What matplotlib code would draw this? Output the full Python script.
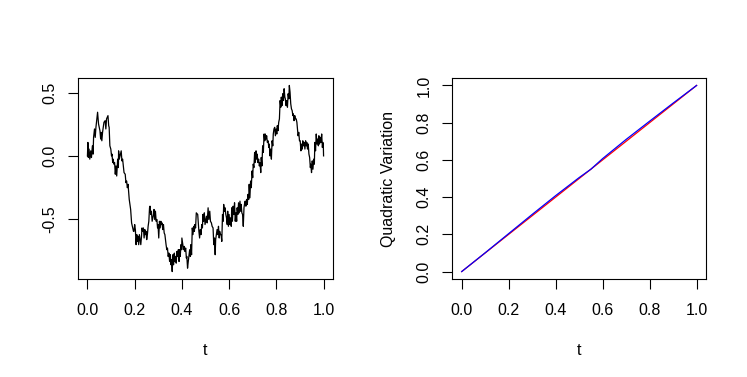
import matplotlib
matplotlib.use("Agg")
import matplotlib.pyplot as plt
import numpy as np

# Brownian path (t, W), two readings per column
bm_t = [0.000, 0.002, 0.004, 0.007, 0.010, 0.014, 0.017, 0.021, 0.024, 0.026,
        0.030, 0.033, 0.036, 0.040, 0.043, 0.047, 0.053, 0.056, 0.058, 0.061,
        0.064, 0.070, 0.075, 0.078, 0.081, 0.087, 0.090, 0.092, 0.095, 0.099,
        0.102, 0.104, 0.107, 0.109, 0.112, 0.115, 0.118, 0.121, 0.124, 0.128,
        0.131, 0.132, 0.135, 0.138, 0.141, 0.143, 0.146, 0.149, 0.155, 0.160,
        0.163, 0.166, 0.169, 0.172, 0.175, 0.177, 0.183, 0.187, 0.192, 0.195,
        0.197, 0.200, 0.203, 0.206, 0.209, 0.212, 0.214, 0.217, 0.220, 0.223,
        0.226, 0.229, 0.231, 0.234, 0.237, 0.240, 0.243, 0.246, 0.248, 0.251,
        0.254, 0.257, 0.260, 0.263, 0.265, 0.268, 0.271, 0.274, 0.277, 0.280,
        0.282, 0.285, 0.288, 0.291, 0.294, 0.297, 0.299, 0.302, 0.305, 0.308,
        0.311, 0.314, 0.316, 0.319, 0.322, 0.325, 0.328, 0.333, 0.336, 0.339,
        0.342, 0.345, 0.348, 0.351, 0.354, 0.356, 0.359, 0.362, 0.365, 0.368,
        0.371, 0.373, 0.376, 0.379, 0.382, 0.385, 0.388, 0.390, 0.393, 0.396,
        0.399, 0.400, 0.404, 0.407, 0.410, 0.413, 0.416, 0.419, 0.421, 0.424,
        0.427, 0.433, 0.436, 0.438, 0.441, 0.444, 0.447, 0.450, 0.453, 0.455,
        0.458, 0.461, 0.467, 0.470, 0.472, 0.475, 0.478, 0.481, 0.484, 0.487,
        0.489, 0.492, 0.495, 0.498, 0.504, 0.507, 0.511, 0.514, 0.518, 0.521,
        0.525, 0.528, 0.532, 0.535, 0.538, 0.541, 0.543, 0.546, 0.549, 0.552,
        0.555, 0.558, 0.560, 0.563, 0.566, 0.569, 0.572, 0.575, 0.577, 0.580,
        0.583, 0.586, 0.589, 0.592, 0.594, 0.597, 0.600, 0.603, 0.606, 0.609,
        0.611, 0.614, 0.617, 0.620, 0.623, 0.626, 0.629, 0.632, 0.634, 0.637,
        0.640, 0.643, 0.646, 0.649, 0.651, 0.654, 0.657, 0.660, 0.663, 0.666,
        0.668, 0.671, 0.674, 0.677, 0.680, 0.683, 0.685, 0.688, 0.691, 0.694,
        0.697, 0.700, 0.702, 0.705, 0.708, 0.711, 0.714, 0.717, 0.719, 0.722,
        0.725, 0.728, 0.731, 0.734, 0.736, 0.739, 0.742, 0.745, 0.748, 0.751,
        0.753, 0.756, 0.759, 0.762, 0.765, 0.768, 0.770, 0.773, 0.776, 0.779,
        0.782, 0.785, 0.787, 0.790, 0.793, 0.796, 0.799, 0.802, 0.804, 0.807,
        0.810, 0.813, 0.816, 0.819, 0.821, 0.824, 0.827, 0.830, 0.833, 0.836,
        0.838, 0.841, 0.844, 0.847, 0.850, 0.853, 0.855, 0.858, 0.861, 0.864,
        0.867, 0.870, 0.872, 0.875, 0.878, 0.881, 0.884, 0.887, 0.889, 0.892,
        0.895, 0.898, 0.901, 0.904, 0.907, 0.910, 0.912, 0.915, 0.918, 0.921,
        0.924, 0.927, 0.929, 0.932, 0.935, 0.938, 0.941, 0.944, 0.946, 0.949,
        0.952, 0.955, 0.958, 0.961, 0.963, 0.966, 0.969, 0.972, 0.975, 0.978,
        0.980, 0.983, 0.986, 0.989, 0.992, 0.995, 0.997, 0.999, 1.000]
bm_w = [0.000, 0.107, -0.013, 0.054, -0.026, 0.040, -0.013, 0.080, 0.014, 0.147,
        0.214, 0.147, 0.227, 0.294, 0.347, 0.254, 0.200, 0.134, 0.187, 0.120,
        0.187, 0.267, 0.280, 0.214, 0.294, 0.320, 0.240, 0.227, 0.080, 0.054,
        0.000, 0.014, -0.053, -0.026, -0.066, -0.053, -0.146, -0.080, -0.160, -0.026,
        -0.093, 0.040, -0.026, 0.000, 0.027, 0.040, -0.040, -0.026, -0.133, -0.146,
        -0.213, -0.200, -0.253, -0.226, -0.293, -0.346, -0.426, -0.533, -0.573, -0.600,
        -0.600, -0.546, -0.586, -0.706, -0.626, -0.680, -0.640, -0.706, -0.626, -0.666,
        -0.706, -0.640, -0.573, -0.600, -0.573, -0.653, -0.586, -0.626, -0.600, -0.666,
        -0.626, -0.560, -0.520, -0.413, -0.400, -0.466, -0.440, -0.520, -0.493, -0.466,
        -0.426, -0.506, -0.440, -0.520, -0.506, -0.573, -0.546, -0.653, -0.520, -0.573,
        -0.520, -0.546, -0.533, -0.586, -0.546, -0.613, -0.626, -0.706, -0.746, -0.733,
        -0.800, -0.773, -0.840, -0.786, -0.866, -0.826, -0.920, -0.786, -0.866, -0.773,
        -0.840, -0.800, -0.853, -0.760, -0.800, -0.746, -0.840, -0.746, -0.800, -0.706,
        -0.746, -0.653, -0.706, -0.746, -0.720, -0.760, -0.733, -0.813, -0.800, -0.893,
        -0.840, -0.746, -0.800, -0.706, -0.786, -0.573, -0.626, -0.560, -0.600, -0.546,
        -0.573, -0.453, -0.466, -0.546, -0.600, -0.653, -0.586, -0.626, -0.546, -0.573,
        -0.466, -0.520, -0.453, -0.546, -0.480, -0.533, -0.413, -0.506, -0.440, -0.520,
        -0.533, -0.560, -0.573, -0.706, -0.653, -0.786, -0.666, -0.626, -0.586, -0.626,
        -0.560, -0.653, -0.600, -0.626, -0.626, -0.680, -0.466, -0.520, -0.386, -0.440,
        -0.413, -0.466, -0.493, -0.546, -0.440, -0.560, -0.466, -0.546, -0.493, -0.560,
        -0.413, -0.520, -0.400, -0.466, -0.373, -0.520, -0.453, -0.520, -0.413, -0.466,
        -0.373, -0.453, -0.360, -0.440, -0.386, -0.453, -0.466, -0.560, -0.413, -0.373,
        -0.360, -0.400, -0.346, -0.386, -0.306, -0.346, -0.226, -0.333, -0.200, -0.253,
        -0.120, -0.173, -0.066, -0.093, 0.027, -0.053, 0.040, -0.026, 0.014, -0.053,
        -0.026, -0.080, -0.053, -0.133, -0.013, -0.080, 0.080, 0.027, 0.174, 0.120,
        0.174, 0.134, 0.160, 0.107, 0.120, 0.067, 0.094, 0.000, 0.054, -0.026,
        0.120, 0.080, 0.174, 0.214, 0.227, 0.160, 0.214, 0.174, 0.240, 0.200,
        0.267, 0.294, 0.440, 0.387, 0.467, 0.400, 0.494, 0.440, 0.534, 0.467,
        0.454, 0.400, 0.440, 0.387, 0.494, 0.454, 0.560, 0.507, 0.414, 0.374,
        0.360, 0.320, 0.334, 0.280, 0.320, 0.294, 0.294, 0.267, 0.227, 0.160,
        0.187, 0.120, 0.120, 0.040, 0.094, 0.054, 0.120, 0.080, 0.107, 0.054,
        0.120, 0.080, 0.107, 0.054, 0.094, 0.014, -0.013, -0.093, -0.066, -0.133,
        -0.040, -0.106, -0.026, -0.066, 0.107, 0.040, 0.174, 0.094, 0.134, 0.080,
        0.160, 0.094, 0.147, 0.107, 0.174, 0.067, 0.107, 0.080, 0.000]

# quadratic variation: theoretical (red) and realised (blue)
qv_t = [0.0, 1.0]
qv_theory = [0.0, 1.0]
qv_emp_t = [0.0, 0.1, 0.2, 0.3, 0.4, 0.5, 0.55, 0.6, 0.7, 0.8, 0.9, 1.0]
qv_emp = [0.0, 0.101, 0.204, 0.307, 0.408, 0.505, 0.550, 0.607, 0.710, 0.808, 0.905, 1.0]

t_ticks = [0.0, 0.2, 0.4, 0.6, 0.8, 1.0]
w_ticks = [-0.5, 0.0, 0.5]
qv_ticks = [0.0, 0.2, 0.4, 0.6, 0.8, 1.0]

plt.rcParams["font.family"] = ["Liberation Sans", "DejaVu Sans"]
plt.rcParams["font.size"] = 11.5


def r_range(vals):
    lo, hi = min(vals), max(vals)
    d = (hi - lo) * 0.04
    return lo - d, hi + d


def r_style(ax):
    for s in ax.spines.values():
        s.set_linewidth(0.8)
    ax.tick_params(length=7, width=0.8, color="black")
    ax.tick_params(axis="x", pad=10)
    ax.tick_params(axis="y", pad=8)
    for lab in ax.get_yticklabels():
        lab.set_rotation(90)
        lab.set_va("center")


fig = plt.figure(figsize=(7.47, 3.77), dpi=100)

ax1 = fig.add_axes([0.1044, 0.2599, 0.3414, 0.5332])
ax1.plot(bm_t, bm_w, color="black", lw=0.9)
ax1.set_xlim(*r_range(bm_t))
ax1.set_ylim(*r_range(bm_w))
ax1.set_xticks(t_ticks)
ax1.set_xticklabels(["0.0", "0.2", "0.4", "0.6", "0.8", "1.0"])
ax1.set_yticks(w_ticks)
ax1.set_yticklabels(["-0.5", "0.0", "0.5"])
ax1.set_xlabel("t", labelpad=18)
r_style(ax1)

ax2 = fig.add_axes([0.6055, 0.2599, 0.3396, 0.5332])
ax2.plot(qv_t, qv_theory, color="red", lw=0.9)
ax2.plot(qv_emp_t, qv_emp, color="blue", lw=0.9)
ax2.set_xlim(*r_range(qv_t))
ax2.set_ylim(*r_range(qv_theory))
ax2.set_xticks(t_ticks)
ax2.set_xticklabels(["0.0", "0.2", "0.4", "0.6", "0.8", "1.0"])
ax2.set_yticks(qv_ticks)
ax2.set_yticklabels(["0.0", "0.2", "0.4", "0.6", "0.8", "1.0"])
ax2.set_xlabel("t", labelpad=18)
ax2.set_ylabel("Quadratic Variation", labelpad=15)
r_style(ax2)

fig.savefig("out.png", dpi=100)
